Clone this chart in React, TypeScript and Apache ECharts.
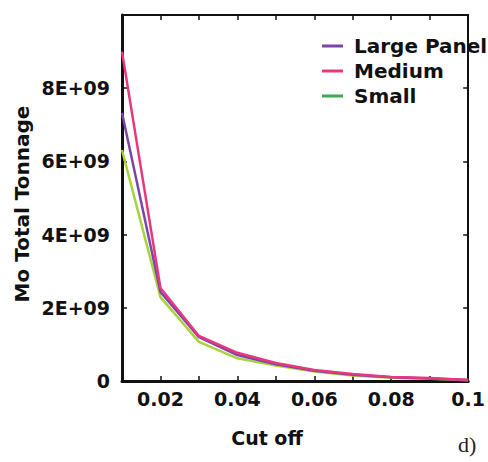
import React, { useEffect, useRef } from "react";
import * as echarts from "echarts";

const cutOff = [0.01, 0.02, 0.03, 0.04, 0.05, 0.06, 0.07, 0.08, 0.09, 0.1];
const largePanel = [7.33e9, 2.43e9, 1.2e9, 0.71e9, 0.46e9, 0.28e9, 0.17e9, 0.1e9, 0.07e9, 0.03e9];
const medium = [9.0e9, 2.54e9, 1.23e9, 0.77e9, 0.49e9, 0.3e9, 0.19e9, 0.11e9, 0.08e9, 0.03e9];
const small = [6.31e9, 2.29e9, 1.07e9, 0.62e9, 0.42e9, 0.26e9, 0.15e9, 0.09e9, 0.06e9, 0.02e9];
const seriesNames = ["Large Panel", "Medium", "Small"];

const FONT = "DejaVu Sans";

export default function App() {
  const ref = useRef<HTMLDivElement>(null);
  useEffect(() => {
    if (!ref.current) return;
    const chart = echarts.init(ref.current, null, { renderer: "svg" });
    const pts = (vals: number[]) => cutOff.map((x, i) => [x, vals[i]]);
    const axisCommon = {
      type: "value" as const,
      min: 0.01,
      max: 0.1,
      interval: 0.01,
      splitLine: { show: false },
    };
    chart.setOption({
      animation: false,
      backgroundColor: "#fff",
      grid: { left: 122, right: 3, top: 15, bottom: 81, containLabel: false },
      legend: {
        data: [
          { name: "Large Panel", itemStyle: { color: "#7a45a8" } },
          { name: "Medium", itemStyle: { color: "#e8377f" } },
          { name: "Small", itemStyle: { color: "#3aa84f" } },
        ],
        orient: "vertical",
        left: 317,
        top: 31,
        icon: "rect",
        itemWidth: 21,
        itemHeight: 3,
        itemGap: 5,
        textStyle: {
          fontFamily: FONT,
          fontWeight: "bold",
          fontSize: 20,
          lineHeight: 20,
          color: "#111",
          padding: [0, 0, 0, 6],
        },
      },
      xAxis: [
        {
          ...axisCommon,
          position: "bottom",
          axisLine: { onZero: false, lineStyle: { color: "#111", width: 3 } },
          axisTick: { inside: true, length: 5, lineStyle: { color: "#111", width: 1.5 } },
          axisLabel: {
            margin: 8,
            fontFamily: FONT,
            fontWeight: "bold",
            fontSize: 19,
            color: "#111",
            showMinLabel: false,
            formatter: (v: number) => {
              const k = Math.round(v * 100);
              if (k % 2 !== 0) return "";
              return String(Number((k / 100).toFixed(2)));
            },
          },
        },
        {
          ...axisCommon,
          position: "top",
          axisLine: { onZero: false, lineStyle: { color: "#111", width: 2 } },
          axisTick: { inside: true, length: 5, lineStyle: { color: "#111", width: 1.5 } },
          axisLabel: { show: false },
        },
      ],
      yAxis: [
        {
          type: "value",
          min: 0,
          max: 1e10,
          interval: 2e9,
          position: "left",
          splitLine: { show: false },
          axisLine: { show: true, onZero: false, lineStyle: { color: "#111", width: 3 } },
          axisTick: { show: true, inside: true, length: 5, lineStyle: { color: "#111", width: 1.5 } },
          axisLabel: {
            margin: 12,
            fontFamily: FONT,
            fontWeight: "bold",
            fontSize: 19,
            color: "#111",
            showMaxLabel: false,
            formatter: (v: number) => (v === 0 ? "0" : v >= 1e10 ? "" : `${Math.round(v / 1e9)}E+09`),
          },
        },
        {
          type: "value",
          min: 0,
          max: 1e10,
          interval: 2e9,
          position: "right",
          splitLine: { show: false },
          axisLine: { show: true, onZero: false, lineStyle: { color: "#111", width: 2 } },
          axisTick: { show: true, inside: true, length: 5, lineStyle: { color: "#111", width: 1.5 } },
          axisLabel: { show: false },
        },
      ],
      series: [
        {
          name: seriesNames[2],
          type: "line",
          data: pts(small),
          showSymbol: false,
          lineStyle: { color: "#a6d23a", width: 2.5 },
          itemStyle: { color: "#3aa84f" },
        },
        {
          name: seriesNames[0],
          type: "line",
          data: pts(largePanel),
          showSymbol: false,
          lineStyle: { color: "#7a45a8", width: 2.5 },
          itemStyle: { color: "#7a45a8" },
        },
        {
          name: seriesNames[1],
          type: "line",
          data: pts(medium),
          showSymbol: false,
          lineStyle: { color: "#e8377f", width: 2.5 },
          itemStyle: { color: "#e8377f" },
        },
      ],
      graphic: [
        {
          type: "text",
          x: 22,
          y: 204,
          rotation: Math.PI / 2,
          style: {
            text: "Mo Total Tonnage",
            fontFamily: FONT,
            fontWeight: "bold",
            fontSize: 20,
            fill: "#111",
            textAlign: "center",
            textVerticalAlign: "middle",
          },
        },
        {
          type: "text",
          x: 267,
          y: 438,
          style: {
            text: "Cut off",
            fontFamily: FONT,
            fontWeight: "bold",
            fontSize: 19,
            fill: "#111",
            textAlign: "center",
            textVerticalAlign: "middle",
          },
        },
        {
          type: "text",
          x: 458,
          y: 444,
          style: {
            text: "d)",
            fontFamily: "Liberation Serif",
            fontSize: 22,
            fill: "#222",
            textAlign: "left",
            textVerticalAlign: "middle",
          },
        },
      ],
    });
    return () => chart.dispose();
  }, []);
  return <div ref={ref} style={{ width: 488, height: 462, position: "absolute", left: 0, top: 0 }} />;
}
